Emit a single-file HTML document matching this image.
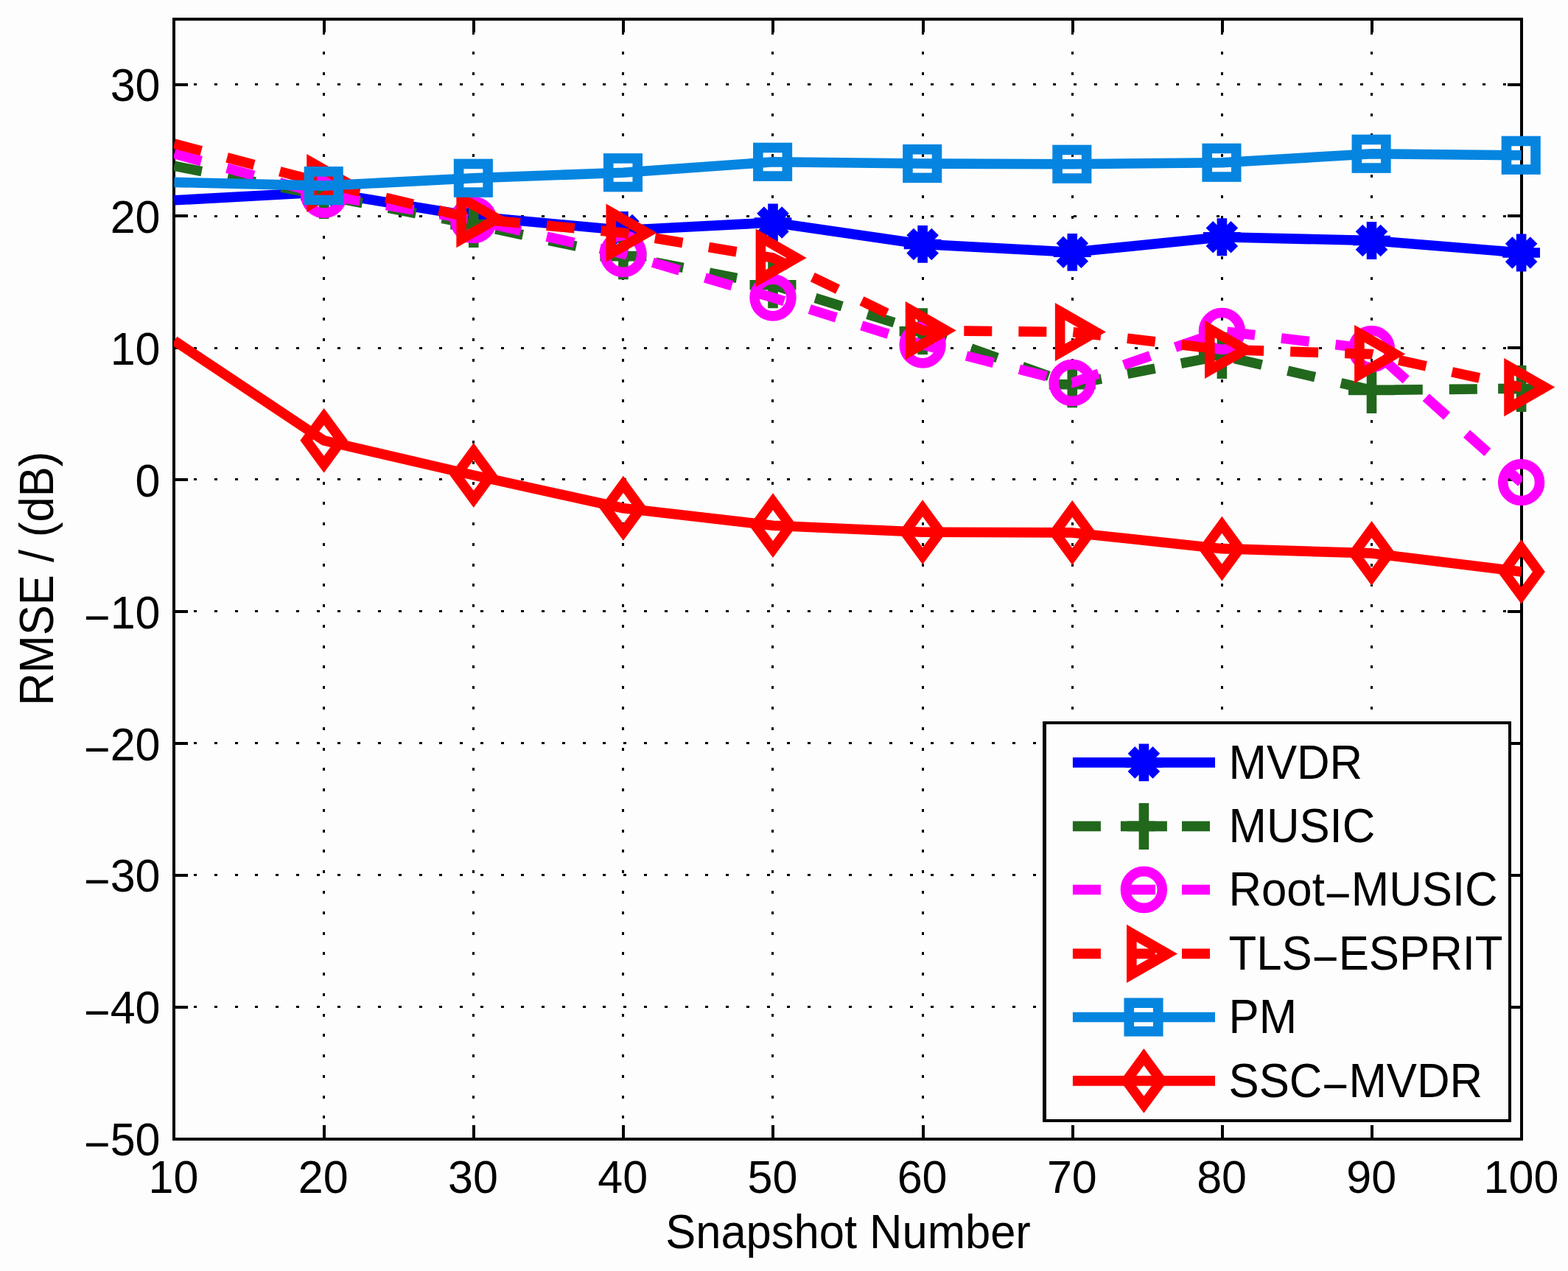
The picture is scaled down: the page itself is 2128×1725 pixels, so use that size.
<!DOCTYPE html>
<html lang="en"><head><meta charset="utf-8"><title>RMSE versus Snapshot Number</title>
<style>html,body{margin:0;padding:0;background:#fdfdfd}body{width:2128px;height:1725px}svg{display:block}text{font-family:"Liberation Sans",Arial,Helvetica,sans-serif;fill:#000}</style></head><body>
<svg width="2128" height="1725" viewBox="0 0 2128 1725" role="img" aria-label="RMSE / (dB) versus Snapshot Number for six DOA estimators">
<rect width="2128" height="1725" fill="#fdfdfd"/>
<defs><clipPath id="ax"><rect x="236" y="26" width="1830" height="1520"/></clipPath></defs>
<path fill="#000" shape-rendering="crispEdges" d="M438 1542h3v4h-3zM438 1514h3v4h-3zM438 1487h3v4h-3zM438 1459h3v4h-3zM438 1431h3v4h-3zM438 1403h3v4h-3zM438 1376h3v4h-3zM438 1348h3v4h-3zM438 1320h3v4h-3zM438 1292h3v4h-3zM438 1265h3v4h-3zM438 1237h3v4h-3zM438 1209h3v4h-3zM438 1181h3v4h-3zM438 1153h3v4h-3zM438 1126h3v4h-3zM438 1098h3v4h-3zM438 1070h3v4h-3zM438 1042h3v4h-3zM438 1015h3v4h-3zM438 987h3v4h-3zM438 959h3v4h-3zM438 931h3v4h-3zM438 903h3v4h-3zM438 876h3v4h-3zM438 848h3v4h-3zM438 820h3v4h-3zM438 792h3v4h-3zM438 765h3v4h-3zM438 737h3v4h-3zM438 709h3v4h-3zM438 681h3v4h-3zM438 654h3v4h-3zM438 626h3v4h-3zM438 598h3v4h-3zM438 570h3v4h-3zM438 542h3v4h-3zM438 515h3v4h-3zM438 487h3v4h-3zM438 459h3v4h-3zM438 431h3v4h-3zM438 404h3v4h-3zM438 376h3v4h-3zM438 348h3v4h-3zM438 320h3v4h-3zM438 293h3v4h-3zM438 265h3v4h-3zM438 237h3v4h-3zM438 209h3v4h-3zM438 181h3v4h-3zM438 154h3v4h-3zM438 126h3v4h-3zM438 98h3v4h-3zM438 70h3v4h-3zM438 43h3v4h-3zM641 1542h3v4h-3zM641 1514h3v4h-3zM641 1487h3v4h-3zM641 1459h3v4h-3zM641 1431h3v4h-3zM641 1403h3v4h-3zM641 1376h3v4h-3zM641 1348h3v4h-3zM641 1320h3v4h-3zM641 1292h3v4h-3zM641 1265h3v4h-3zM641 1237h3v4h-3zM641 1209h3v4h-3zM641 1181h3v4h-3zM641 1153h3v4h-3zM641 1126h3v4h-3zM641 1098h3v4h-3zM641 1070h3v4h-3zM641 1042h3v4h-3zM641 1015h3v4h-3zM641 987h3v4h-3zM641 959h3v4h-3zM641 931h3v4h-3zM641 903h3v4h-3zM641 876h3v4h-3zM641 848h3v4h-3zM641 820h3v4h-3zM641 792h3v4h-3zM641 765h3v4h-3zM641 737h3v4h-3zM641 709h3v4h-3zM641 681h3v4h-3zM641 654h3v4h-3zM641 626h3v4h-3zM641 598h3v4h-3zM641 570h3v4h-3zM641 542h3v4h-3zM641 515h3v4h-3zM641 487h3v4h-3zM641 459h3v4h-3zM641 431h3v4h-3zM641 404h3v4h-3zM641 376h3v4h-3zM641 348h3v4h-3zM641 320h3v4h-3zM641 293h3v4h-3zM641 265h3v4h-3zM641 237h3v4h-3zM641 209h3v4h-3zM641 181h3v4h-3zM641 154h3v4h-3zM641 126h3v4h-3zM641 98h3v4h-3zM641 70h3v4h-3zM641 43h3v4h-3zM844 1542h3v4h-3zM844 1514h3v4h-3zM844 1487h3v4h-3zM844 1459h3v4h-3zM844 1431h3v4h-3zM844 1403h3v4h-3zM844 1376h3v4h-3zM844 1348h3v4h-3zM844 1320h3v4h-3zM844 1292h3v4h-3zM844 1265h3v4h-3zM844 1237h3v4h-3zM844 1209h3v4h-3zM844 1181h3v4h-3zM844 1153h3v4h-3zM844 1126h3v4h-3zM844 1098h3v4h-3zM844 1070h3v4h-3zM844 1042h3v4h-3zM844 1015h3v4h-3zM844 987h3v4h-3zM844 959h3v4h-3zM844 931h3v4h-3zM844 903h3v4h-3zM844 876h3v4h-3zM844 848h3v4h-3zM844 820h3v4h-3zM844 792h3v4h-3zM844 765h3v4h-3zM844 737h3v4h-3zM844 709h3v4h-3zM844 681h3v4h-3zM844 654h3v4h-3zM844 626h3v4h-3zM844 598h3v4h-3zM844 570h3v4h-3zM844 542h3v4h-3zM844 515h3v4h-3zM844 487h3v4h-3zM844 459h3v4h-3zM844 431h3v4h-3zM844 404h3v4h-3zM844 376h3v4h-3zM844 348h3v4h-3zM844 320h3v4h-3zM844 293h3v4h-3zM844 265h3v4h-3zM844 237h3v4h-3zM844 209h3v4h-3zM844 181h3v4h-3zM844 154h3v4h-3zM844 126h3v4h-3zM844 98h3v4h-3zM844 70h3v4h-3zM844 43h3v4h-3zM1047 1542h3v4h-3zM1047 1514h3v4h-3zM1047 1487h3v4h-3zM1047 1459h3v4h-3zM1047 1431h3v4h-3zM1047 1403h3v4h-3zM1047 1376h3v4h-3zM1047 1348h3v4h-3zM1047 1320h3v4h-3zM1047 1292h3v4h-3zM1047 1265h3v4h-3zM1047 1237h3v4h-3zM1047 1209h3v4h-3zM1047 1181h3v4h-3zM1047 1153h3v4h-3zM1047 1126h3v4h-3zM1047 1098h3v4h-3zM1047 1070h3v4h-3zM1047 1042h3v4h-3zM1047 1015h3v4h-3zM1047 987h3v4h-3zM1047 959h3v4h-3zM1047 931h3v4h-3zM1047 903h3v4h-3zM1047 876h3v4h-3zM1047 848h3v4h-3zM1047 820h3v4h-3zM1047 792h3v4h-3zM1047 765h3v4h-3zM1047 737h3v4h-3zM1047 709h3v4h-3zM1047 681h3v4h-3zM1047 654h3v4h-3zM1047 626h3v4h-3zM1047 598h3v4h-3zM1047 570h3v4h-3zM1047 542h3v4h-3zM1047 515h3v4h-3zM1047 487h3v4h-3zM1047 459h3v4h-3zM1047 431h3v4h-3zM1047 404h3v4h-3zM1047 376h3v4h-3zM1047 348h3v4h-3zM1047 320h3v4h-3zM1047 293h3v4h-3zM1047 265h3v4h-3zM1047 237h3v4h-3zM1047 209h3v4h-3zM1047 181h3v4h-3zM1047 154h3v4h-3zM1047 126h3v4h-3zM1047 98h3v4h-3zM1047 70h3v4h-3zM1047 43h3v4h-3zM1251 1542h3v4h-3zM1251 1514h3v4h-3zM1251 1487h3v4h-3zM1251 1459h3v4h-3zM1251 1431h3v4h-3zM1251 1403h3v4h-3zM1251 1376h3v4h-3zM1251 1348h3v4h-3zM1251 1320h3v4h-3zM1251 1292h3v4h-3zM1251 1265h3v4h-3zM1251 1237h3v4h-3zM1251 1209h3v4h-3zM1251 1181h3v4h-3zM1251 1153h3v4h-3zM1251 1126h3v4h-3zM1251 1098h3v4h-3zM1251 1070h3v4h-3zM1251 1042h3v4h-3zM1251 1015h3v4h-3zM1251 987h3v4h-3zM1251 959h3v4h-3zM1251 931h3v4h-3zM1251 903h3v4h-3zM1251 876h3v4h-3zM1251 848h3v4h-3zM1251 820h3v4h-3zM1251 792h3v4h-3zM1251 765h3v4h-3zM1251 737h3v4h-3zM1251 709h3v4h-3zM1251 681h3v4h-3zM1251 654h3v4h-3zM1251 626h3v4h-3zM1251 598h3v4h-3zM1251 570h3v4h-3zM1251 542h3v4h-3zM1251 515h3v4h-3zM1251 487h3v4h-3zM1251 459h3v4h-3zM1251 431h3v4h-3zM1251 404h3v4h-3zM1251 376h3v4h-3zM1251 348h3v4h-3zM1251 320h3v4h-3zM1251 293h3v4h-3zM1251 265h3v4h-3zM1251 237h3v4h-3zM1251 209h3v4h-3zM1251 181h3v4h-3zM1251 154h3v4h-3zM1251 126h3v4h-3zM1251 98h3v4h-3zM1251 70h3v4h-3zM1251 43h3v4h-3zM1454 1542h3v4h-3zM1454 1514h3v4h-3zM1454 1487h3v4h-3zM1454 1459h3v4h-3zM1454 1431h3v4h-3zM1454 1403h3v4h-3zM1454 1376h3v4h-3zM1454 1348h3v4h-3zM1454 1320h3v4h-3zM1454 1292h3v4h-3zM1454 1265h3v4h-3zM1454 1237h3v4h-3zM1454 1209h3v4h-3zM1454 1181h3v4h-3zM1454 1153h3v4h-3zM1454 1126h3v4h-3zM1454 1098h3v4h-3zM1454 1070h3v4h-3zM1454 1042h3v4h-3zM1454 1015h3v4h-3zM1454 987h3v4h-3zM1454 959h3v4h-3zM1454 931h3v4h-3zM1454 903h3v4h-3zM1454 876h3v4h-3zM1454 848h3v4h-3zM1454 820h3v4h-3zM1454 792h3v4h-3zM1454 765h3v4h-3zM1454 737h3v4h-3zM1454 709h3v4h-3zM1454 681h3v4h-3zM1454 654h3v4h-3zM1454 626h3v4h-3zM1454 598h3v4h-3zM1454 570h3v4h-3zM1454 542h3v4h-3zM1454 515h3v4h-3zM1454 487h3v4h-3zM1454 459h3v4h-3zM1454 431h3v4h-3zM1454 404h3v4h-3zM1454 376h3v4h-3zM1454 348h3v4h-3zM1454 320h3v4h-3zM1454 293h3v4h-3zM1454 265h3v4h-3zM1454 237h3v4h-3zM1454 209h3v4h-3zM1454 181h3v4h-3zM1454 154h3v4h-3zM1454 126h3v4h-3zM1454 98h3v4h-3zM1454 70h3v4h-3zM1454 43h3v4h-3zM1657 1542h3v4h-3zM1657 1514h3v4h-3zM1657 1487h3v4h-3zM1657 1459h3v4h-3zM1657 1431h3v4h-3zM1657 1403h3v4h-3zM1657 1376h3v4h-3zM1657 1348h3v4h-3zM1657 1320h3v4h-3zM1657 1292h3v4h-3zM1657 1265h3v4h-3zM1657 1237h3v4h-3zM1657 1209h3v4h-3zM1657 1181h3v4h-3zM1657 1153h3v4h-3zM1657 1126h3v4h-3zM1657 1098h3v4h-3zM1657 1070h3v4h-3zM1657 1042h3v4h-3zM1657 1015h3v4h-3zM1657 987h3v4h-3zM1657 959h3v4h-3zM1657 931h3v4h-3zM1657 903h3v4h-3zM1657 876h3v4h-3zM1657 848h3v4h-3zM1657 820h3v4h-3zM1657 792h3v4h-3zM1657 765h3v4h-3zM1657 737h3v4h-3zM1657 709h3v4h-3zM1657 681h3v4h-3zM1657 654h3v4h-3zM1657 626h3v4h-3zM1657 598h3v4h-3zM1657 570h3v4h-3zM1657 542h3v4h-3zM1657 515h3v4h-3zM1657 487h3v4h-3zM1657 459h3v4h-3zM1657 431h3v4h-3zM1657 404h3v4h-3zM1657 376h3v4h-3zM1657 348h3v4h-3zM1657 320h3v4h-3zM1657 293h3v4h-3zM1657 265h3v4h-3zM1657 237h3v4h-3zM1657 209h3v4h-3zM1657 181h3v4h-3zM1657 154h3v4h-3zM1657 126h3v4h-3zM1657 98h3v4h-3zM1657 70h3v4h-3zM1657 43h3v4h-3zM1860 1542h3v4h-3zM1860 1514h3v4h-3zM1860 1487h3v4h-3zM1860 1459h3v4h-3zM1860 1431h3v4h-3zM1860 1403h3v4h-3zM1860 1376h3v4h-3zM1860 1348h3v4h-3zM1860 1320h3v4h-3zM1860 1292h3v4h-3zM1860 1265h3v4h-3zM1860 1237h3v4h-3zM1860 1209h3v4h-3zM1860 1181h3v4h-3zM1860 1153h3v4h-3zM1860 1126h3v4h-3zM1860 1098h3v4h-3zM1860 1070h3v4h-3zM1860 1042h3v4h-3zM1860 1015h3v4h-3zM1860 987h3v4h-3zM1860 959h3v4h-3zM1860 931h3v4h-3zM1860 903h3v4h-3zM1860 876h3v4h-3zM1860 848h3v4h-3zM1860 820h3v4h-3zM1860 792h3v4h-3zM1860 765h3v4h-3zM1860 737h3v4h-3zM1860 709h3v4h-3zM1860 681h3v4h-3zM1860 654h3v4h-3zM1860 626h3v4h-3zM1860 598h3v4h-3zM1860 570h3v4h-3zM1860 542h3v4h-3zM1860 515h3v4h-3zM1860 487h3v4h-3zM1860 459h3v4h-3zM1860 431h3v4h-3zM1860 404h3v4h-3zM1860 376h3v4h-3zM1860 348h3v4h-3zM1860 320h3v4h-3zM1860 293h3v4h-3zM1860 265h3v4h-3zM1860 237h3v4h-3zM1860 209h3v4h-3zM1860 181h3v4h-3zM1860 154h3v4h-3zM1860 126h3v4h-3zM1860 98h3v4h-3zM1860 70h3v4h-3zM1860 43h3v4h-3zM235 1365h4v3h-4zM263 1365h4v3h-4zM291 1365h4v3h-4zM319 1365h4v3h-4zM346 1365h4v3h-4zM374 1365h4v3h-4zM402 1365h4v3h-4zM430 1365h4v3h-4zM458 1365h4v3h-4zM485 1365h4v3h-4zM513 1365h4v3h-4zM541 1365h4v3h-4zM569 1365h4v3h-4zM596 1365h4v3h-4zM624 1365h4v3h-4zM652 1365h4v3h-4zM680 1365h4v3h-4zM707 1365h4v3h-4zM735 1365h4v3h-4zM763 1365h4v3h-4zM791 1365h4v3h-4zM818 1365h4v3h-4zM846 1365h4v3h-4zM874 1365h4v3h-4zM902 1365h4v3h-4zM930 1365h4v3h-4zM957 1365h4v3h-4zM985 1365h4v3h-4zM1013 1365h4v3h-4zM1041 1365h4v3h-4zM1068 1365h4v3h-4zM1096 1365h4v3h-4zM1124 1365h4v3h-4zM1152 1365h4v3h-4zM1179 1365h4v3h-4zM1207 1365h4v3h-4zM1235 1365h4v3h-4zM1263 1365h4v3h-4zM1290 1365h4v3h-4zM1318 1365h4v3h-4zM1346 1365h4v3h-4zM1374 1365h4v3h-4zM1402 1365h4v3h-4zM1429 1365h4v3h-4zM1457 1365h4v3h-4zM1485 1365h4v3h-4zM1513 1365h4v3h-4zM1540 1365h4v3h-4zM1568 1365h4v3h-4zM1596 1365h4v3h-4zM1624 1365h4v3h-4zM1651 1365h4v3h-4zM1679 1365h4v3h-4zM1707 1365h4v3h-4zM1735 1365h4v3h-4zM1762 1365h4v3h-4zM1790 1365h4v3h-4zM1818 1365h4v3h-4zM1846 1365h4v3h-4zM1874 1365h4v3h-4zM1901 1365h4v3h-4zM1929 1365h4v3h-4zM1957 1365h4v3h-4zM1985 1365h4v3h-4zM2012 1365h4v3h-4zM2040 1365h4v3h-4zM235 1186h4v3h-4zM263 1186h4v3h-4zM291 1186h4v3h-4zM319 1186h4v3h-4zM346 1186h4v3h-4zM374 1186h4v3h-4zM402 1186h4v3h-4zM430 1186h4v3h-4zM458 1186h4v3h-4zM485 1186h4v3h-4zM513 1186h4v3h-4zM541 1186h4v3h-4zM569 1186h4v3h-4zM596 1186h4v3h-4zM624 1186h4v3h-4zM652 1186h4v3h-4zM680 1186h4v3h-4zM707 1186h4v3h-4zM735 1186h4v3h-4zM763 1186h4v3h-4zM791 1186h4v3h-4zM818 1186h4v3h-4zM846 1186h4v3h-4zM874 1186h4v3h-4zM902 1186h4v3h-4zM930 1186h4v3h-4zM957 1186h4v3h-4zM985 1186h4v3h-4zM1013 1186h4v3h-4zM1041 1186h4v3h-4zM1068 1186h4v3h-4zM1096 1186h4v3h-4zM1124 1186h4v3h-4zM1152 1186h4v3h-4zM1179 1186h4v3h-4zM1207 1186h4v3h-4zM1235 1186h4v3h-4zM1263 1186h4v3h-4zM1290 1186h4v3h-4zM1318 1186h4v3h-4zM1346 1186h4v3h-4zM1374 1186h4v3h-4zM1402 1186h4v3h-4zM1429 1186h4v3h-4zM1457 1186h4v3h-4zM1485 1186h4v3h-4zM1513 1186h4v3h-4zM1540 1186h4v3h-4zM1568 1186h4v3h-4zM1596 1186h4v3h-4zM1624 1186h4v3h-4zM1651 1186h4v3h-4zM1679 1186h4v3h-4zM1707 1186h4v3h-4zM1735 1186h4v3h-4zM1762 1186h4v3h-4zM1790 1186h4v3h-4zM1818 1186h4v3h-4zM1846 1186h4v3h-4zM1874 1186h4v3h-4zM1901 1186h4v3h-4zM1929 1186h4v3h-4zM1957 1186h4v3h-4zM1985 1186h4v3h-4zM2012 1186h4v3h-4zM2040 1186h4v3h-4zM235 1007h4v3h-4zM263 1007h4v3h-4zM291 1007h4v3h-4zM319 1007h4v3h-4zM346 1007h4v3h-4zM374 1007h4v3h-4zM402 1007h4v3h-4zM430 1007h4v3h-4zM458 1007h4v3h-4zM485 1007h4v3h-4zM513 1007h4v3h-4zM541 1007h4v3h-4zM569 1007h4v3h-4zM596 1007h4v3h-4zM624 1007h4v3h-4zM652 1007h4v3h-4zM680 1007h4v3h-4zM707 1007h4v3h-4zM735 1007h4v3h-4zM763 1007h4v3h-4zM791 1007h4v3h-4zM818 1007h4v3h-4zM846 1007h4v3h-4zM874 1007h4v3h-4zM902 1007h4v3h-4zM930 1007h4v3h-4zM957 1007h4v3h-4zM985 1007h4v3h-4zM1013 1007h4v3h-4zM1041 1007h4v3h-4zM1068 1007h4v3h-4zM1096 1007h4v3h-4zM1124 1007h4v3h-4zM1152 1007h4v3h-4zM1179 1007h4v3h-4zM1207 1007h4v3h-4zM1235 1007h4v3h-4zM1263 1007h4v3h-4zM1290 1007h4v3h-4zM1318 1007h4v3h-4zM1346 1007h4v3h-4zM1374 1007h4v3h-4zM1402 1007h4v3h-4zM1429 1007h4v3h-4zM1457 1007h4v3h-4zM1485 1007h4v3h-4zM1513 1007h4v3h-4zM1540 1007h4v3h-4zM1568 1007h4v3h-4zM1596 1007h4v3h-4zM1624 1007h4v3h-4zM1651 1007h4v3h-4zM1679 1007h4v3h-4zM1707 1007h4v3h-4zM1735 1007h4v3h-4zM1762 1007h4v3h-4zM1790 1007h4v3h-4zM1818 1007h4v3h-4zM1846 1007h4v3h-4zM1874 1007h4v3h-4zM1901 1007h4v3h-4zM1929 1007h4v3h-4zM1957 1007h4v3h-4zM1985 1007h4v3h-4zM2012 1007h4v3h-4zM2040 1007h4v3h-4zM235 828h4v3h-4zM263 828h4v3h-4zM291 828h4v3h-4zM319 828h4v3h-4zM346 828h4v3h-4zM374 828h4v3h-4zM402 828h4v3h-4zM430 828h4v3h-4zM458 828h4v3h-4zM485 828h4v3h-4zM513 828h4v3h-4zM541 828h4v3h-4zM569 828h4v3h-4zM596 828h4v3h-4zM624 828h4v3h-4zM652 828h4v3h-4zM680 828h4v3h-4zM707 828h4v3h-4zM735 828h4v3h-4zM763 828h4v3h-4zM791 828h4v3h-4zM818 828h4v3h-4zM846 828h4v3h-4zM874 828h4v3h-4zM902 828h4v3h-4zM930 828h4v3h-4zM957 828h4v3h-4zM985 828h4v3h-4zM1013 828h4v3h-4zM1041 828h4v3h-4zM1068 828h4v3h-4zM1096 828h4v3h-4zM1124 828h4v3h-4zM1152 828h4v3h-4zM1179 828h4v3h-4zM1207 828h4v3h-4zM1235 828h4v3h-4zM1263 828h4v3h-4zM1290 828h4v3h-4zM1318 828h4v3h-4zM1346 828h4v3h-4zM1374 828h4v3h-4zM1402 828h4v3h-4zM1429 828h4v3h-4zM1457 828h4v3h-4zM1485 828h4v3h-4zM1513 828h4v3h-4zM1540 828h4v3h-4zM1568 828h4v3h-4zM1596 828h4v3h-4zM1624 828h4v3h-4zM1651 828h4v3h-4zM1679 828h4v3h-4zM1707 828h4v3h-4zM1735 828h4v3h-4zM1762 828h4v3h-4zM1790 828h4v3h-4zM1818 828h4v3h-4zM1846 828h4v3h-4zM1874 828h4v3h-4zM1901 828h4v3h-4zM1929 828h4v3h-4zM1957 828h4v3h-4zM1985 828h4v3h-4zM2012 828h4v3h-4zM2040 828h4v3h-4zM235 649h4v3h-4zM263 649h4v3h-4zM291 649h4v3h-4zM319 649h4v3h-4zM346 649h4v3h-4zM374 649h4v3h-4zM402 649h4v3h-4zM430 649h4v3h-4zM458 649h4v3h-4zM485 649h4v3h-4zM513 649h4v3h-4zM541 649h4v3h-4zM569 649h4v3h-4zM596 649h4v3h-4zM624 649h4v3h-4zM652 649h4v3h-4zM680 649h4v3h-4zM707 649h4v3h-4zM735 649h4v3h-4zM763 649h4v3h-4zM791 649h4v3h-4zM818 649h4v3h-4zM846 649h4v3h-4zM874 649h4v3h-4zM902 649h4v3h-4zM930 649h4v3h-4zM957 649h4v3h-4zM985 649h4v3h-4zM1013 649h4v3h-4zM1041 649h4v3h-4zM1068 649h4v3h-4zM1096 649h4v3h-4zM1124 649h4v3h-4zM1152 649h4v3h-4zM1179 649h4v3h-4zM1207 649h4v3h-4zM1235 649h4v3h-4zM1263 649h4v3h-4zM1290 649h4v3h-4zM1318 649h4v3h-4zM1346 649h4v3h-4zM1374 649h4v3h-4zM1402 649h4v3h-4zM1429 649h4v3h-4zM1457 649h4v3h-4zM1485 649h4v3h-4zM1513 649h4v3h-4zM1540 649h4v3h-4zM1568 649h4v3h-4zM1596 649h4v3h-4zM1624 649h4v3h-4zM1651 649h4v3h-4zM1679 649h4v3h-4zM1707 649h4v3h-4zM1735 649h4v3h-4zM1762 649h4v3h-4zM1790 649h4v3h-4zM1818 649h4v3h-4zM1846 649h4v3h-4zM1874 649h4v3h-4zM1901 649h4v3h-4zM1929 649h4v3h-4zM1957 649h4v3h-4zM1985 649h4v3h-4zM2012 649h4v3h-4zM2040 649h4v3h-4zM235 471h4v3h-4zM263 471h4v3h-4zM291 471h4v3h-4zM319 471h4v3h-4zM346 471h4v3h-4zM374 471h4v3h-4zM402 471h4v3h-4zM430 471h4v3h-4zM458 471h4v3h-4zM485 471h4v3h-4zM513 471h4v3h-4zM541 471h4v3h-4zM569 471h4v3h-4zM596 471h4v3h-4zM624 471h4v3h-4zM652 471h4v3h-4zM680 471h4v3h-4zM707 471h4v3h-4zM735 471h4v3h-4zM763 471h4v3h-4zM791 471h4v3h-4zM818 471h4v3h-4zM846 471h4v3h-4zM874 471h4v3h-4zM902 471h4v3h-4zM930 471h4v3h-4zM957 471h4v3h-4zM985 471h4v3h-4zM1013 471h4v3h-4zM1041 471h4v3h-4zM1068 471h4v3h-4zM1096 471h4v3h-4zM1124 471h4v3h-4zM1152 471h4v3h-4zM1179 471h4v3h-4zM1207 471h4v3h-4zM1235 471h4v3h-4zM1263 471h4v3h-4zM1290 471h4v3h-4zM1318 471h4v3h-4zM1346 471h4v3h-4zM1374 471h4v3h-4zM1402 471h4v3h-4zM1429 471h4v3h-4zM1457 471h4v3h-4zM1485 471h4v3h-4zM1513 471h4v3h-4zM1540 471h4v3h-4zM1568 471h4v3h-4zM1596 471h4v3h-4zM1624 471h4v3h-4zM1651 471h4v3h-4zM1679 471h4v3h-4zM1707 471h4v3h-4zM1735 471h4v3h-4zM1762 471h4v3h-4zM1790 471h4v3h-4zM1818 471h4v3h-4zM1846 471h4v3h-4zM1874 471h4v3h-4zM1901 471h4v3h-4zM1929 471h4v3h-4zM1957 471h4v3h-4zM1985 471h4v3h-4zM2012 471h4v3h-4zM2040 471h4v3h-4zM235 292h4v3h-4zM263 292h4v3h-4zM291 292h4v3h-4zM319 292h4v3h-4zM346 292h4v3h-4zM374 292h4v3h-4zM402 292h4v3h-4zM430 292h4v3h-4zM458 292h4v3h-4zM485 292h4v3h-4zM513 292h4v3h-4zM541 292h4v3h-4zM569 292h4v3h-4zM596 292h4v3h-4zM624 292h4v3h-4zM652 292h4v3h-4zM680 292h4v3h-4zM707 292h4v3h-4zM735 292h4v3h-4zM763 292h4v3h-4zM791 292h4v3h-4zM818 292h4v3h-4zM846 292h4v3h-4zM874 292h4v3h-4zM902 292h4v3h-4zM930 292h4v3h-4zM957 292h4v3h-4zM985 292h4v3h-4zM1013 292h4v3h-4zM1041 292h4v3h-4zM1068 292h4v3h-4zM1096 292h4v3h-4zM1124 292h4v3h-4zM1152 292h4v3h-4zM1179 292h4v3h-4zM1207 292h4v3h-4zM1235 292h4v3h-4zM1263 292h4v3h-4zM1290 292h4v3h-4zM1318 292h4v3h-4zM1346 292h4v3h-4zM1374 292h4v3h-4zM1402 292h4v3h-4zM1429 292h4v3h-4zM1457 292h4v3h-4zM1485 292h4v3h-4zM1513 292h4v3h-4zM1540 292h4v3h-4zM1568 292h4v3h-4zM1596 292h4v3h-4zM1624 292h4v3h-4zM1651 292h4v3h-4zM1679 292h4v3h-4zM1707 292h4v3h-4zM1735 292h4v3h-4zM1762 292h4v3h-4zM1790 292h4v3h-4zM1818 292h4v3h-4zM1846 292h4v3h-4zM1874 292h4v3h-4zM1901 292h4v3h-4zM1929 292h4v3h-4zM1957 292h4v3h-4zM1985 292h4v3h-4zM2012 292h4v3h-4zM2040 292h4v3h-4zM235 113h4v3h-4zM263 113h4v3h-4zM291 113h4v3h-4zM319 113h4v3h-4zM346 113h4v3h-4zM374 113h4v3h-4zM402 113h4v3h-4zM430 113h4v3h-4zM458 113h4v3h-4zM485 113h4v3h-4zM513 113h4v3h-4zM541 113h4v3h-4zM569 113h4v3h-4zM596 113h4v3h-4zM624 113h4v3h-4zM652 113h4v3h-4zM680 113h4v3h-4zM707 113h4v3h-4zM735 113h4v3h-4zM763 113h4v3h-4zM791 113h4v3h-4zM818 113h4v3h-4zM846 113h4v3h-4zM874 113h4v3h-4zM902 113h4v3h-4zM930 113h4v3h-4zM957 113h4v3h-4zM985 113h4v3h-4zM1013 113h4v3h-4zM1041 113h4v3h-4zM1068 113h4v3h-4zM1096 113h4v3h-4zM1124 113h4v3h-4zM1152 113h4v3h-4zM1179 113h4v3h-4zM1207 113h4v3h-4zM1235 113h4v3h-4zM1263 113h4v3h-4zM1290 113h4v3h-4zM1318 113h4v3h-4zM1346 113h4v3h-4zM1374 113h4v3h-4zM1402 113h4v3h-4zM1429 113h4v3h-4zM1457 113h4v3h-4zM1485 113h4v3h-4zM1513 113h4v3h-4zM1540 113h4v3h-4zM1568 113h4v3h-4zM1596 113h4v3h-4zM1624 113h4v3h-4zM1651 113h4v3h-4zM1679 113h4v3h-4zM1707 113h4v3h-4zM1735 113h4v3h-4zM1762 113h4v3h-4zM1790 113h4v3h-4zM1818 113h4v3h-4zM1846 113h4v3h-4zM1874 113h4v3h-4zM1901 113h4v3h-4zM1929 113h4v3h-4zM1957 113h4v3h-4zM1985 113h4v3h-4zM2012 113h4v3h-4zM2040 113h4v3h-4z"/>
<rect x="236" y="26" width="1829" height="1520" stroke="#000" stroke-width="4" fill="none"/>
<path fill="#000" shape-rendering="crispEdges" d="M438 1527h4v18h-4zM438 27h4v17h-4zM641 1527h4v18h-4zM641 27h4v17h-4zM844 1527h4v18h-4zM844 27h4v17h-4zM1047 1527h4v18h-4zM1047 27h4v17h-4zM1251 1527h4v18h-4zM1251 27h4v17h-4zM1454 1527h4v18h-4zM1454 27h4v17h-4zM1657 1527h4v18h-4zM1657 27h4v17h-4zM1860 1527h4v18h-4zM1860 27h4v17h-4zM237 1365h18v4h-18zM2046 1365h18v4h-18zM237 1186h18v4h-18zM2046 1186h18v4h-18zM237 1007h18v4h-18zM2046 1007h18v4h-18zM237 828h18v4h-18zM2046 828h18v4h-18zM237 649h18v4h-18zM2046 649h18v4h-18zM237 470h18v4h-18zM2046 470h18v4h-18zM237 291h18v4h-18zM2046 291h18v4h-18zM237 113h18v4h-18zM2046 113h18v4h-18z"/>
<text transform="translate(235.5 1619.25) scale(1 1.04)" font-size="61" text-anchor="middle">10</text>
<text transform="translate(438.72 1619.25) scale(1 1.04)" font-size="61" text-anchor="middle">20</text>
<text transform="translate(641.94 1619.25) scale(1 1.04)" font-size="61" text-anchor="middle">30</text>
<text transform="translate(845.17 1619.25) scale(1 1.04)" font-size="61" text-anchor="middle">40</text>
<text transform="translate(1048.39 1619.25) scale(1 1.04)" font-size="61" text-anchor="middle">50</text>
<text transform="translate(1251.61 1619.25) scale(1 1.04)" font-size="61" text-anchor="middle">60</text>
<text transform="translate(1454.83 1619.25) scale(1 1.04)" font-size="61" text-anchor="middle">70</text>
<text transform="translate(1658.06 1619.25) scale(1 1.04)" font-size="61" text-anchor="middle">80</text>
<text transform="translate(1861.28 1619.25) scale(1 1.04)" font-size="61" text-anchor="middle">90</text>
<text transform="translate(2064.5 1619.25) scale(1 1.04)" font-size="61" text-anchor="middle">100</text>
<text transform="translate(217.5 1568) scale(1 1.04)" font-size="61" text-anchor="end"><tspan dy="6.9">−</tspan><tspan dy="-6.9">50</tspan></text>
<text transform="translate(217.5 1389.18) scale(1 1.04)" font-size="61" text-anchor="end"><tspan dy="6.9">−</tspan><tspan dy="-6.9">40</tspan></text>
<text transform="translate(217.5 1210.35) scale(1 1.04)" font-size="61" text-anchor="end"><tspan dy="6.9">−</tspan><tspan dy="-6.9">30</tspan></text>
<text transform="translate(217.5 1031.53) scale(1 1.04)" font-size="61" text-anchor="end"><tspan dy="6.9">−</tspan><tspan dy="-6.9">20</tspan></text>
<text transform="translate(217.5 852.71) scale(1 1.04)" font-size="61" text-anchor="end"><tspan dy="6.9">−</tspan><tspan dy="-6.9">10</tspan></text>
<text transform="translate(217.5 673.88) scale(1 1.04)" font-size="61" text-anchor="end">0</text>
<text transform="translate(217.5 495.06) scale(1 1.04)" font-size="61" text-anchor="end">10</text>
<text transform="translate(217.5 316.24) scale(1 1.04)" font-size="61" text-anchor="end">20</text>
<text transform="translate(217.5 137.41) scale(1 1.04)" font-size="61" text-anchor="end">30</text>
<text transform="translate(1151 1694.25) scale(1 1.04)" font-size="61.5" text-anchor="middle">Snapshot Number</text>
<text transform="translate(72.3 785.3) rotate(-90) scale(1 1.04)" font-size="61.5" text-anchor="middle">RMSE / (dB)</text>
<g>
<polyline clip-path="url(#ax)" points="236.5,271.8 439.62,260.8 642.75,293.8 845.88,312.5 1049,302 1252.12,331.45 1455.25,342.3 1658.38,321.75 1861.5,326.5 2064.62,343" stroke="#0000ff" stroke-width="13.6" fill="none" stroke-linejoin="round"/>
<path d="M414.23 260.8H465.02M439.62 235.4V286.2M422.65 243.83L456.6 277.77M422.65 277.77L456.6 243.83" stroke="#0000ff" stroke-width="13.6" fill="none"/>
<path d="M617.35 293.8H668.15M642.75 268.4V319.2M625.78 276.83L659.72 310.77M625.78 310.77L659.72 276.83" stroke="#0000ff" stroke-width="13.6" fill="none"/>
<path d="M820.48 312.5H871.27M845.88 287.1V337.9M828.9 295.53L862.85 329.47M828.9 329.47L862.85 295.53" stroke="#0000ff" stroke-width="13.6" fill="none"/>
<path d="M1023.6 302H1074.4M1049 276.6V327.4M1032.03 285.03L1065.97 318.97M1032.03 318.97L1065.97 285.03" stroke="#0000ff" stroke-width="13.6" fill="none"/>
<path d="M1226.72 331.45H1277.53M1252.12 306.05V356.85M1235.15 314.48L1269.1 348.42M1235.15 348.42L1269.1 314.48" stroke="#0000ff" stroke-width="13.6" fill="none"/>
<path d="M1429.85 342.3H1480.65M1455.25 316.9V367.7M1438.28 325.33L1472.22 359.27M1438.28 359.27L1472.22 325.33" stroke="#0000ff" stroke-width="13.6" fill="none"/>
<path d="M1632.97 321.75H1683.78M1658.38 296.35V347.15M1641.4 304.78L1675.35 338.72M1641.4 338.72L1675.35 304.78" stroke="#0000ff" stroke-width="13.6" fill="none"/>
<path d="M1836.1 326.5H1886.9M1861.5 301.1V351.9M1844.53 309.53L1878.47 343.47M1844.53 343.47L1878.47 309.53" stroke="#0000ff" stroke-width="13.6" fill="none"/>
<path d="M2039.22 343H2090.03M2064.62 317.6V368.4M2047.65 326.03L2081.6 359.97M2047.65 359.97L2081.6 326.03" stroke="#0000ff" stroke-width="13.6" fill="none"/>
</g>
<g>
<polyline clip-path="url(#ax)" points="236.5,225.2 439.62,265.5 642.75,304.6 845.88,347.65 1049,386.8 1252.12,449.75 1455.25,521.7 1658.38,482.6 1861.5,529.4 2064.62,527.5" stroke="#21681c" stroke-width="13.6" fill="none" stroke-linejoin="round" stroke-dasharray="38 36.05" stroke-dashoffset="0"/>
<path d="M408.12 265.5H471.12M439.62 234V297" stroke="#21681c" stroke-width="13.6" fill="none"/>
<path d="M611.25 304.6H674.25M642.75 273.1V336.1" stroke="#21681c" stroke-width="13.6" fill="none"/>
<path d="M814.38 347.65H877.38M845.88 316.15V379.15" stroke="#21681c" stroke-width="13.6" fill="none"/>
<path d="M1017.5 386.8H1080.5M1049 355.3V418.3" stroke="#21681c" stroke-width="13.6" fill="none"/>
<path d="M1220.62 449.75H1283.62M1252.12 418.25V481.25" stroke="#21681c" stroke-width="13.6" fill="none"/>
<path d="M1423.75 521.7H1486.75M1455.25 490.2V553.2" stroke="#21681c" stroke-width="13.6" fill="none"/>
<path d="M1626.88 482.6H1689.88M1658.38 451.1V514.1" stroke="#21681c" stroke-width="13.6" fill="none"/>
<path d="M1830 529.4H1893M1861.5 497.9V560.9" stroke="#21681c" stroke-width="13.6" fill="none"/>
<path d="M2033.12 527.5H2096.12M2064.62 496V559" stroke="#21681c" stroke-width="13.6" fill="none"/>
</g>
<g>
<polyline clip-path="url(#ax)" points="236.5,208.6 439.62,264.25 642.75,298.6 845.88,344.5 1049,404 1252.12,467.95 1455.25,519.5 1658.38,449.45 1861.5,473.6 2064.62,654.65" stroke="#ff00ff" stroke-width="13.6" fill="none" stroke-linejoin="round" stroke-dasharray="38 36.05" stroke-dashoffset="0"/>
<circle cx="439.62" cy="264.25" r="24.9" stroke="#ff00ff" stroke-width="13.6" fill="none"/>
<circle cx="642.75" cy="298.6" r="24.9" stroke="#ff00ff" stroke-width="13.6" fill="none"/>
<circle cx="845.88" cy="344.5" r="24.9" stroke="#ff00ff" stroke-width="13.6" fill="none"/>
<circle cx="1049" cy="404" r="24.9" stroke="#ff00ff" stroke-width="13.6" fill="none"/>
<circle cx="1252.12" cy="467.95" r="24.9" stroke="#ff00ff" stroke-width="13.6" fill="none"/>
<circle cx="1455.25" cy="519.5" r="24.9" stroke="#ff00ff" stroke-width="13.6" fill="none"/>
<circle cx="1658.38" cy="449.45" r="24.9" stroke="#ff00ff" stroke-width="13.6" fill="none"/>
<circle cx="1861.5" cy="473.6" r="24.9" stroke="#ff00ff" stroke-width="13.6" fill="none"/>
<circle cx="2064.62" cy="654.65" r="24.9" stroke="#ff00ff" stroke-width="13.6" fill="none"/>
</g>
<g>
<polyline clip-path="url(#ax)" points="236.5,195.1 439.62,248.5 642.75,296.7 845.88,316 1049,350 1252.12,448.6 1455.25,450.6 1658.38,474.45 1861.5,480.6 2064.62,525.6" stroke="#ff0000" stroke-width="13.6" fill="none" stroke-linejoin="round" stroke-dasharray="38 36.05" stroke-dashoffset="0"/>
<path d="M423.02 220.65L471.62 248.5L423.02 276.35Z" stroke="#ff0000" stroke-width="13.6" fill="none" stroke-linejoin="miter" stroke-miterlimit="10"/>
<path d="M626.15 268.85L674.75 296.7L626.15 324.55Z" stroke="#ff0000" stroke-width="13.6" fill="none" stroke-linejoin="miter" stroke-miterlimit="10"/>
<path d="M829.27 288.15L877.88 316L829.27 343.85Z" stroke="#ff0000" stroke-width="13.6" fill="none" stroke-linejoin="miter" stroke-miterlimit="10"/>
<path d="M1032.4 322.15L1081 350L1032.4 377.85Z" stroke="#ff0000" stroke-width="13.6" fill="none" stroke-linejoin="miter" stroke-miterlimit="10"/>
<path d="M1235.53 420.75L1284.12 448.6L1235.53 476.45Z" stroke="#ff0000" stroke-width="13.6" fill="none" stroke-linejoin="miter" stroke-miterlimit="10"/>
<path d="M1438.65 422.75L1487.25 450.6L1438.65 478.45Z" stroke="#ff0000" stroke-width="13.6" fill="none" stroke-linejoin="miter" stroke-miterlimit="10"/>
<path d="M1641.78 446.6L1690.38 474.45L1641.78 502.3Z" stroke="#ff0000" stroke-width="13.6" fill="none" stroke-linejoin="miter" stroke-miterlimit="10"/>
<path d="M1844.9 452.75L1893.5 480.6L1844.9 508.45Z" stroke="#ff0000" stroke-width="13.6" fill="none" stroke-linejoin="miter" stroke-miterlimit="10"/>
<path d="M2048.03 497.75L2096.62 525.6L2048.03 553.45Z" stroke="#ff0000" stroke-width="13.6" fill="none" stroke-linejoin="miter" stroke-miterlimit="10"/>
</g>
<g>
<polyline clip-path="url(#ax)" points="236.5,247.4 439.62,252.15 642.75,241.75 845.88,234.25 1049,219.75 1252.12,222.05 1455.25,222.75 1658.38,220.75 1861.5,208.75 2064.62,210.75" stroke="#0585e0" stroke-width="13.6" fill="none" stroke-linejoin="round"/>
<rect x="419.48" y="232.85" width="39.5" height="38.6" stroke="#0585e0" stroke-width="13.6" fill="none"/>
<rect x="622.6" y="222.45" width="39.5" height="38.6" stroke="#0585e0" stroke-width="13.6" fill="none"/>
<rect x="825.73" y="214.95" width="39.5" height="38.6" stroke="#0585e0" stroke-width="13.6" fill="none"/>
<rect x="1028.85" y="200.45" width="39.5" height="38.6" stroke="#0585e0" stroke-width="13.6" fill="none"/>
<rect x="1231.97" y="202.75" width="39.5" height="38.6" stroke="#0585e0" stroke-width="13.6" fill="none"/>
<rect x="1435.1" y="203.45" width="39.5" height="38.6" stroke="#0585e0" stroke-width="13.6" fill="none"/>
<rect x="1638.22" y="201.45" width="39.5" height="38.6" stroke="#0585e0" stroke-width="13.6" fill="none"/>
<rect x="1841.35" y="189.45" width="39.5" height="38.6" stroke="#0585e0" stroke-width="13.6" fill="none"/>
<rect x="2044.47" y="191.45" width="39.5" height="38.6" stroke="#0585e0" stroke-width="13.6" fill="none"/>
</g>
<g>
<polyline clip-path="url(#ax)" points="236.5,462.4 439.62,597.8 642.75,645 845.88,689.75 1049,713.2 1252.12,722.2 1455.25,722.9 1658.38,744.65 1861.5,750.9 2064.62,775.9" stroke="#ff0000" stroke-width="13.6" fill="none" stroke-linejoin="round"/>
<path d="M439.62 565.4L463.43 597.8L439.62 630.2L415.82 597.8Z" stroke="#ff0000" stroke-width="13.6" fill="none" stroke-linejoin="miter" stroke-miterlimit="10"/>
<path d="M642.75 612.6L666.55 645L642.75 677.4L618.95 645Z" stroke="#ff0000" stroke-width="13.6" fill="none" stroke-linejoin="miter" stroke-miterlimit="10"/>
<path d="M845.88 657.35L869.67 689.75L845.88 722.15L822.08 689.75Z" stroke="#ff0000" stroke-width="13.6" fill="none" stroke-linejoin="miter" stroke-miterlimit="10"/>
<path d="M1049 680.8L1072.8 713.2L1049 745.6L1025.2 713.2Z" stroke="#ff0000" stroke-width="13.6" fill="none" stroke-linejoin="miter" stroke-miterlimit="10"/>
<path d="M1252.12 689.8L1275.92 722.2L1252.12 754.6L1228.33 722.2Z" stroke="#ff0000" stroke-width="13.6" fill="none" stroke-linejoin="miter" stroke-miterlimit="10"/>
<path d="M1455.25 690.5L1479.05 722.9L1455.25 755.3L1431.45 722.9Z" stroke="#ff0000" stroke-width="13.6" fill="none" stroke-linejoin="miter" stroke-miterlimit="10"/>
<path d="M1658.38 712.25L1682.17 744.65L1658.38 777.05L1634.58 744.65Z" stroke="#ff0000" stroke-width="13.6" fill="none" stroke-linejoin="miter" stroke-miterlimit="10"/>
<path d="M1861.5 718.5L1885.3 750.9L1861.5 783.3L1837.7 750.9Z" stroke="#ff0000" stroke-width="13.6" fill="none" stroke-linejoin="miter" stroke-miterlimit="10"/>
<path d="M2064.62 743.5L2088.43 775.9L2064.62 808.3L2040.83 775.9Z" stroke="#ff0000" stroke-width="13.6" fill="none" stroke-linejoin="miter" stroke-miterlimit="10"/>
</g>
<rect x="1415" y="979" width="636" height="544" fill="#000" shape-rendering="crispEdges"/>
<rect x="1420" y="983" width="627" height="536" fill="#fdfdfd" shape-rendering="crispEdges"/>
<line x1="1455.9" y1="1034.9" x2="1649" y2="1034.9" stroke="#0000ff" stroke-width="13.6"/>
<path d="M1527 1034.9H1577.8M1552.4 1009.5V1060.3M1535.43 1017.93L1569.37 1051.87M1535.43 1051.87L1569.37 1017.93" stroke="#0000ff" stroke-width="13.6" fill="none"/>
<text transform="translate(1667.5 1056.8) scale(1 1.04)" font-size="61.7">MVDR</text>
<line x1="1455.9" y1="1121.4" x2="1642" y2="1121.4" stroke="#21681c" stroke-width="13.6" stroke-dasharray="38 36.05"/>
<path d="M1520.9 1121.4H1583.9M1552.4 1089.9V1152.9" stroke="#21681c" stroke-width="13.6" fill="none"/>
<text transform="translate(1667.5 1143.3) scale(1 1.04)" font-size="61.7">MUSIC</text>
<line x1="1455.9" y1="1207.5" x2="1642" y2="1207.5" stroke="#ff00ff" stroke-width="13.6" stroke-dasharray="38 36.05"/>
<circle cx="1552.4" cy="1207.5" r="24.9" stroke="#ff00ff" stroke-width="13.6" fill="none"/>
<text transform="translate(1667.5 1229.4) scale(1 1.04)" font-size="61.7">Root<tspan dy="6.9">−</tspan><tspan dy="-6.9">MUSIC</tspan></text>
<line x1="1455.9" y1="1294.4" x2="1642" y2="1294.4" stroke="#ff0000" stroke-width="13.6" stroke-dasharray="38 36.05"/>
<path d="M1535.8 1266.55L1584.4 1294.4L1535.8 1322.25Z" stroke="#ff0000" stroke-width="13.6" fill="none" stroke-linejoin="miter" stroke-miterlimit="10"/>
<text transform="translate(1667.5 1316.3) scale(1 1.04)" font-size="61.7">TLS<tspan dy="6.9">−</tspan><tspan dy="-6.9">ESPRIT</tspan></text>
<line x1="1455.9" y1="1380.5" x2="1649" y2="1380.5" stroke="#0585e0" stroke-width="13.6"/>
<rect x="1532.25" y="1361.2" width="39.5" height="38.6" stroke="#0585e0" stroke-width="13.6" fill="none"/>
<text transform="translate(1667.5 1402.4) scale(1 1.04)" font-size="61.7">PM</text>
<line x1="1455.9" y1="1466.9" x2="1649" y2="1466.9" stroke="#ff0000" stroke-width="13.6"/>
<path d="M1552.4 1434.5L1576.2 1466.9L1552.4 1499.3L1528.6 1466.9Z" stroke="#ff0000" stroke-width="13.6" fill="none" stroke-linejoin="miter" stroke-miterlimit="10"/>
<text transform="translate(1667.5 1488.8) scale(1 1.04)" font-size="61.7">SSC<tspan dy="6.9">−</tspan><tspan dy="-6.9">MVDR</tspan></text>
</svg></body></html>
